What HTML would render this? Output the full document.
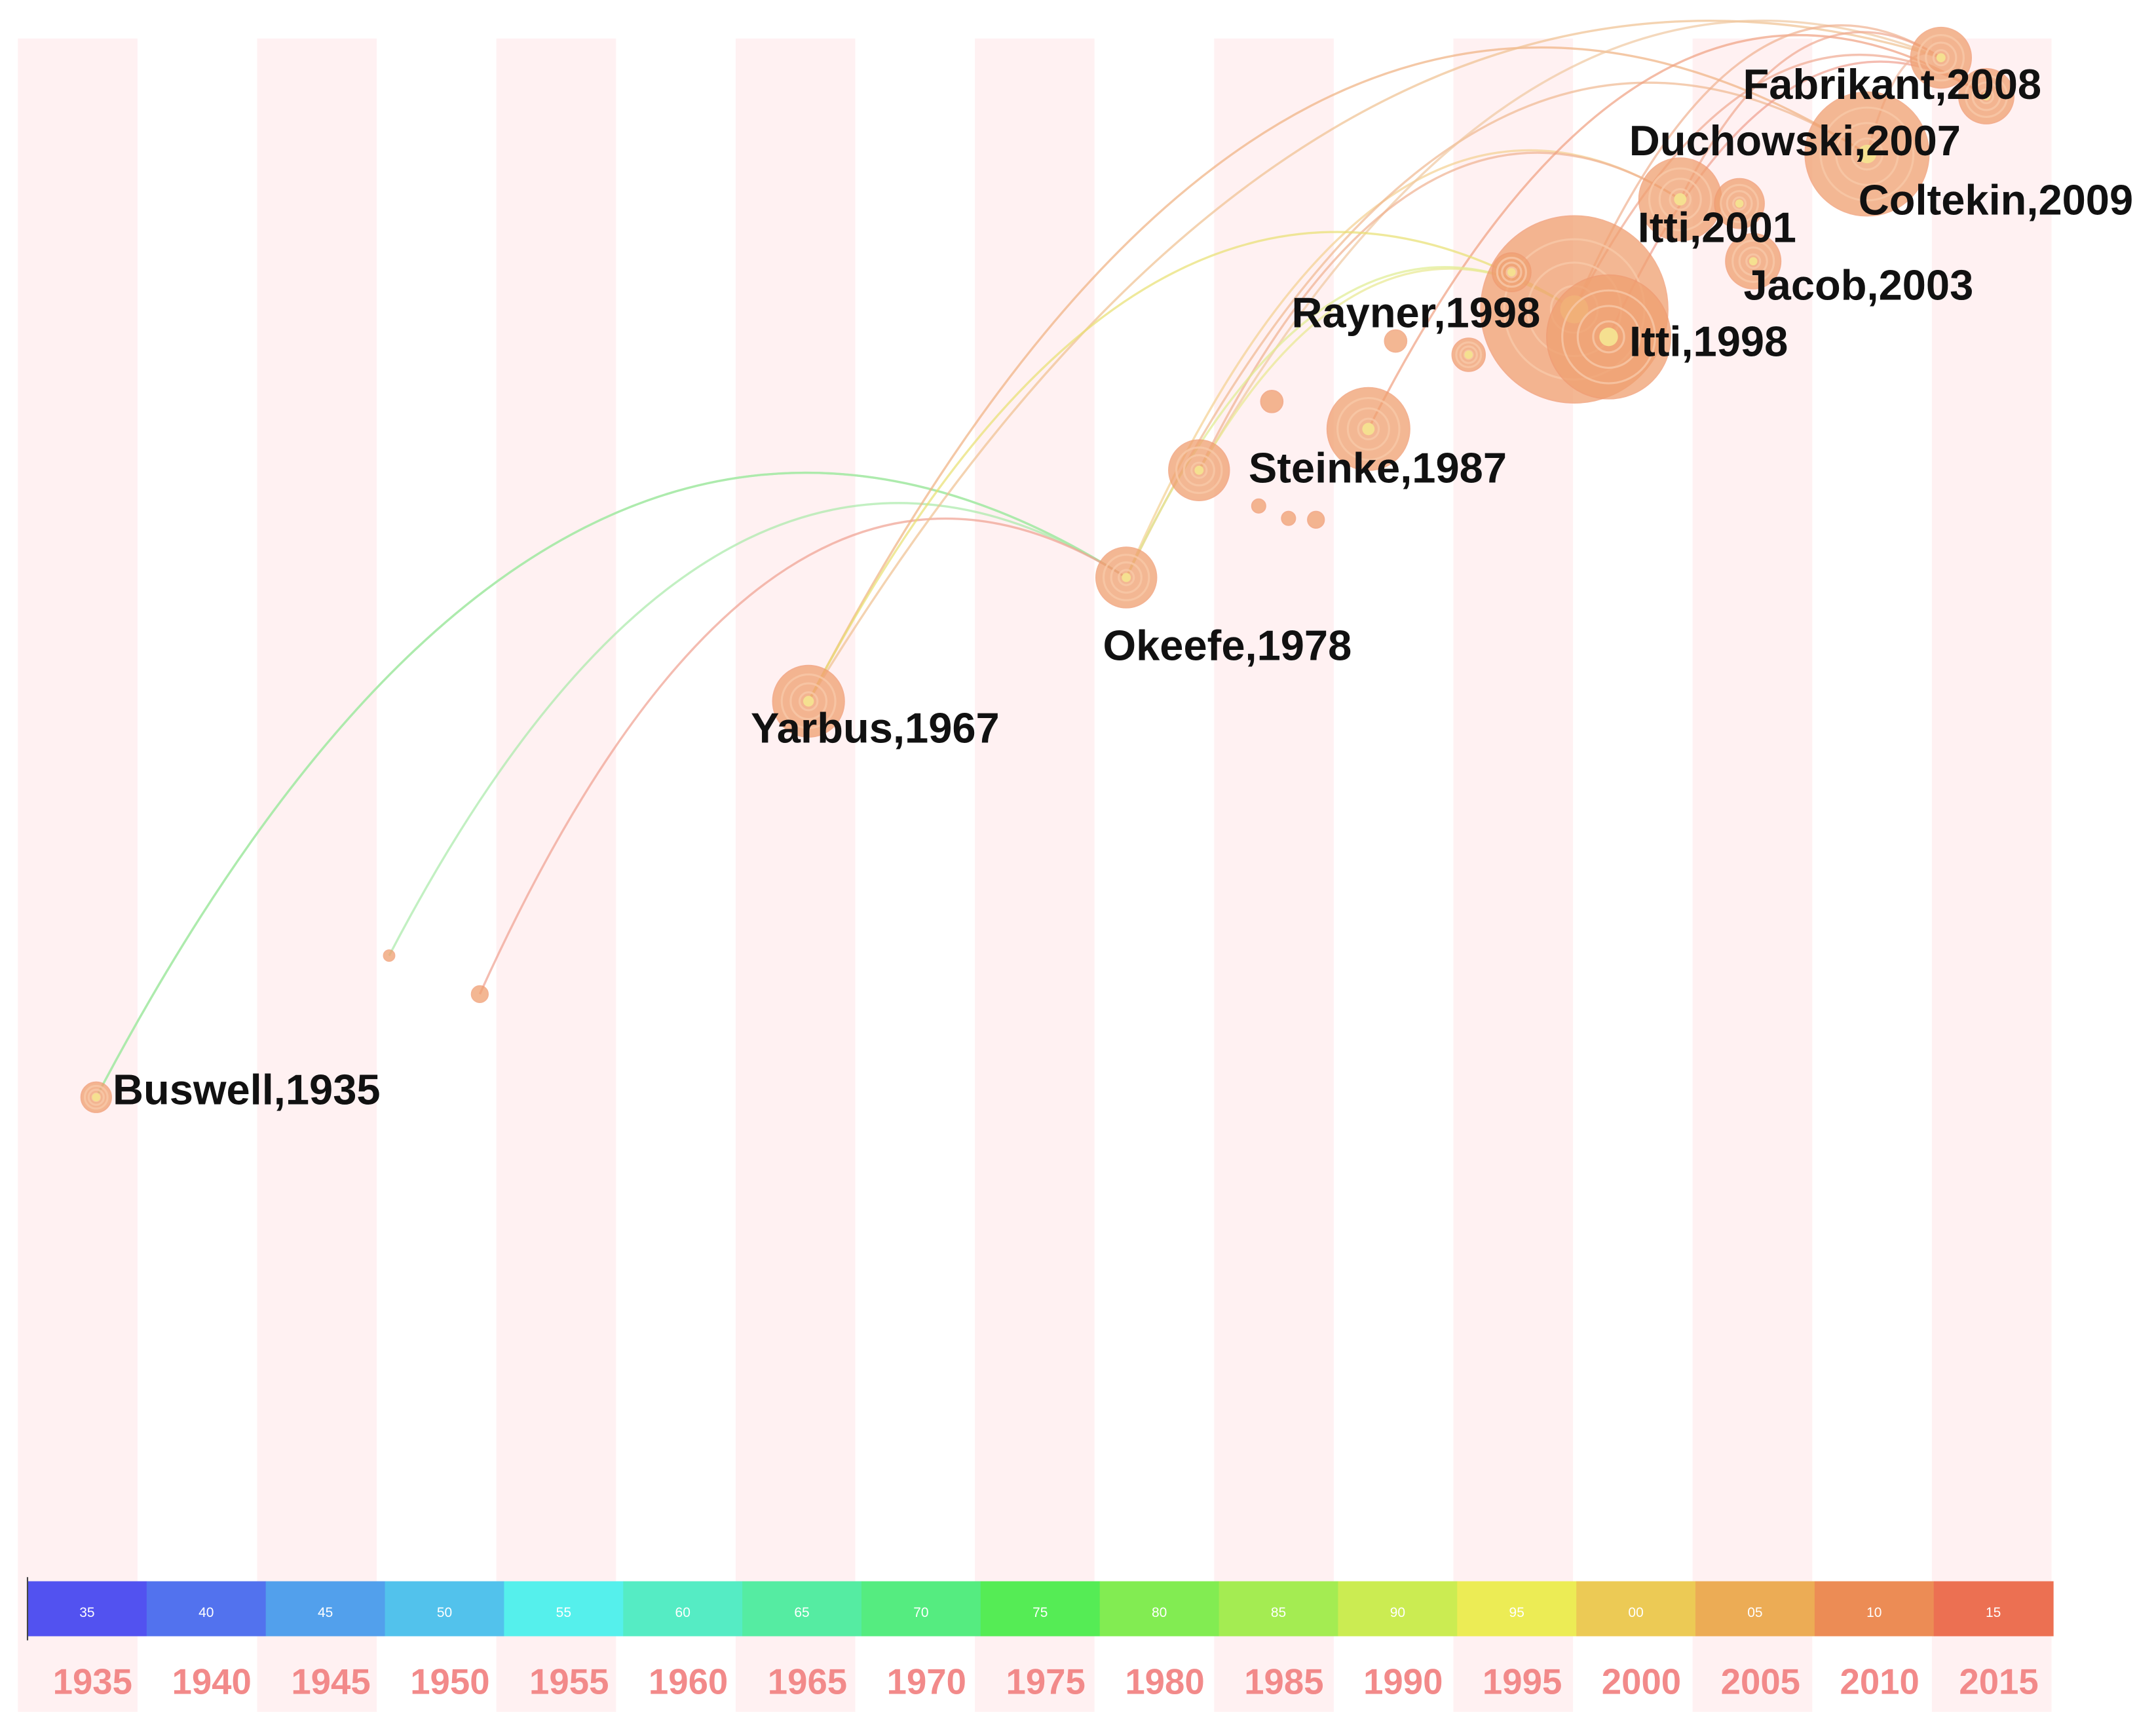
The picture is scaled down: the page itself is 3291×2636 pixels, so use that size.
<!DOCTYPE html>
<html><head><meta charset="utf-8"><style>
html,body{margin:0;padding:0;background:#fff}
svg{display:block}
</style></head><body>
<svg id="chart" width="3291" height="2636" viewBox="0 0 1568 1256" preserveAspectRatio="none" xmlns="http://www.w3.org/2000/svg">
<g id="stripes"></g>
<g id="arcs" fill="none"></g>
<g id="nodes"></g>
<g id="labels" font-family="Liberation Sans, sans-serif" font-weight="bold" font-size="31" fill="#111"></g>
<g id="colorbar"></g>
<g id="years" font-family="Liberation Sans, sans-serif" font-weight="bold" font-size="26" fill="#f28a8a" text-anchor="middle"></g>
</svg>
<script>
const NS='http://www.w3.org/2000/svg';
const tickYears=[1935,1940,1945,1950,1955,1960,1965,1970,1975,1980,1985,1990,1995,2000,2005,2010,2015];
const barColors=['#5252f0','#5272ee','#52a0ec','#52c2ec','#55f0ec','#55ecc4','#55eca2','#55ec80','#55ec55','#82ec52','#a4ec52','#cbec52','#ecec55','#ecca55','#ecac55','#ec8c55','#ec7052'];
const nodeNames=['Buswell,1935','','','Yarbus,1967','Okeefe,1978','Steinke,1987','','','','','','','','','Rayner,1998','Itti,1998','Itti,2001','','Jacob,2003','Duchowski,2007','Fabrikant,2008','Coltekin,2009'];
const nodeT=[1935.17,1947.45,1951.25,1965.03,1978.35,1981.4,1988.5,1984.45,1989.64,1992.7,1986.3,1985.15,1983.9,1997.13,1994.5,1998.57,2001.57,2004.05,2004.63,2009.4,2012.5,2014.4];
const nodeLevel=[798,695,723,510,420,342,312,292,248,258,378,377,368,225,198,245,145,148,190,112,42,70];
const nodeR=[11,4,6,26,22,22,30,8,8,12,6,5,5,68,14,45,30,18,20,45,22,20];
const labelDX=[12,0,0,-42,-17,36,0,0,0,0,0,0,0,0,-160,15,-31,0,-7,-173,-144,-93];
const labelDY=[5,0,0,30,60,9,0,0,0,0,0,0,0,0,40,14,31,0,28,1,30,86];
const arcFrom=[0,0,1,2,3,3,4,4,5,5,6,13,13,15,16,19,3,4,5];
const arcTo=[4,4,4,4,19,20,16,19,20,16,21,20,21,21,20,20,13,13,13];
const arcCol=['#9be69b','#a8eaa8','#a8eaa8','#f0a090','#f0b080','#f0c090','#f4d090','#f0b890','#f0c8a0','#f0b090','#f0a080','#f0b090','#f0a890','#f0a090','#f0a890','#f0b8a0','#e8e070','#e0ec90','#e8e890'];
const xS=t=>67+(t-1935)*17.35;
const g=id=>document.getElementById(id);
function mk(tag,attrs,parent){const e=document.createElementNS(NS,tag);for(const k in attrs)e.setAttribute(k,attrs[k]);parent.appendChild(e);return e;}
function qmin(a,c,b){let m=Math.min(a,b);for(let t=0;t<=1;t+=0.01){const y=(1-t)*(1-t)*a+2*t*(1-t)*c+t*t*b;if(y<m)m=y;}return m;}
for(let k=0;k<9;k++){const r=mk('rect',{x:13+2*k*87,y:28,width:87,height:1217,fill:'#fff1f2'},g('stripes'));

}
arcFrom.forEach((a,i)=>{const b=arcTo[i];
const x1=xS(nodeT[a]),y1=nodeLevel[a],x2=xS(nodeT[b]),y2=nodeLevel[b];
const cx=x1+(x2-x1)*0.45;
let cy=Math.min(y1,y2)-Math.abs(x2-x1)*0.35;
while(qmin(y1,cy,y2)<15)cy+=2;
const p=mk('path',{d:`M${x1},${y1} Q${cx},${cy} ${x2},${y2}`,stroke:arcCol[i],'stroke-width':1.6,opacity:0.7},g('arcs'));

});
nodeT.forEach((t,i)=>{const x=xS(t),y=nodeLevel[i],r=nodeR[i];
const c=mk('circle',{cx:x,cy:y,r:r,fill:'#f0a070',opacity:0.75,stroke:'#ef9a70','stroke-width':1},g('nodes'));


for(let k=1;k<4&&r>10;k++){mk('circle',{cx:x,cy:y,r:r*(1-k*0.25),fill:'none',stroke:'#f7c8a8','stroke-width':1.5,opacity:0.8},g('nodes'));}
if(r>10)mk('circle',{cx:x,cy:y,r:Math.max(3,r*0.15),fill:'#f5e090'},g('nodes'));
if(nodeNames[i]){const tx=mk('text',{x:x+labelDX[i],y:y+labelDY[i]},g('labels'));tx.textContent=nodeNames[i];

}});
const bw=(1493-20)/17;
barColors.forEach((c,i)=>{const r=mk('rect',{x:20+i*bw,y:1150,width:bw+0.5,height:40,fill:c},g('colorbar'));


const tx=mk('text',{x:20+i*bw+bw/2,y:1176,fill:'#fff','font-size':10,'text-anchor':'middle','font-family':'Liberation Sans, sans-serif'},g('colorbar'));tx.textContent=String(tickYears[i]).slice(2);});
mk('line',{x1:20,y1:1147,x2:20,y2:1193,stroke:'#444','stroke-width':1},g('colorbar'));
tickYears.forEach((y,i)=>{const tx=mk('text',{x:20+i*bw+bw/2+4,y:1232},g('years'));tx.textContent=y;

});
</script>
</body></html>
